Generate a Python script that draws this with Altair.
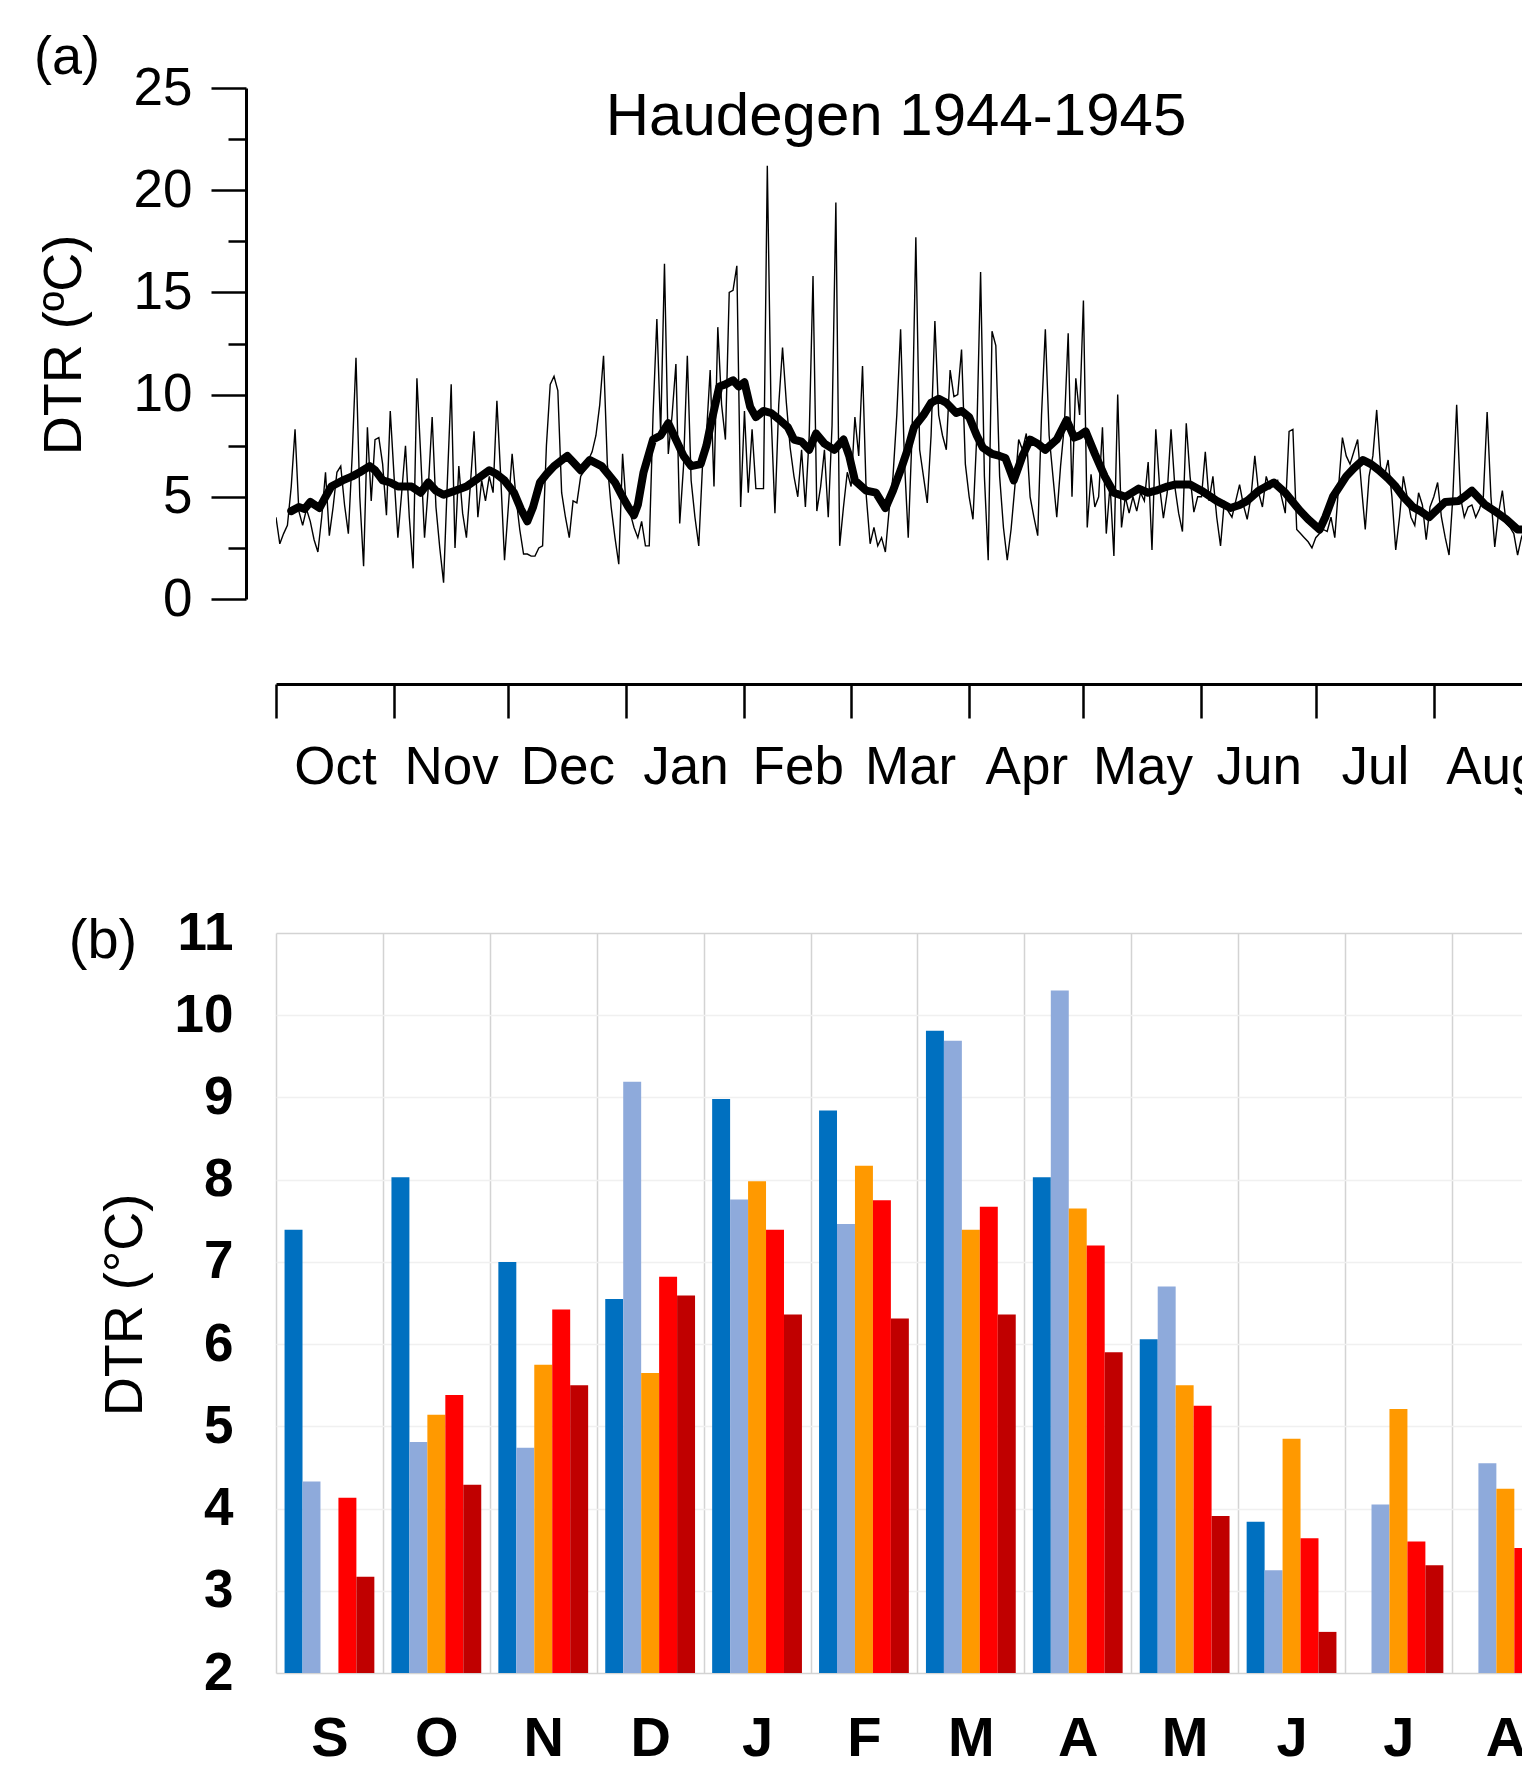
import altair as alt
import pandas as pd

FONT = "Liberation Sans"

# ---------------- (a) daily DTR, Haudegen 1944-1945 ----------------
series_start = "1944-10-01"
dtr_daily = [
    4.0, 2.7, 3.2, 3.6, 5.5, 8.3, 4.3, 3.6, 4.4, 3.8,
    2.9, 2.3, 4.0, 6.2, 3.1, 4.5, 6.2, 6.5, 4.6, 3.2,
    7.0, 11.8, 5.0, 1.6, 8.4, 4.8, 7.8, 7.9, 6.6, 4.1,
    9.2, 6.0, 3.0, 5.2, 7.5, 4.0, 1.5, 10.8, 7.0, 3.0,
    5.5, 8.9, 4.5, 2.5, 0.8, 5.8, 10.5, 2.5, 6.5, 4.2,
    3.0, 5.5, 8.2, 4.0, 5.8, 4.8, 6.0, 5.2, 9.7, 6.0,
    1.9, 4.5, 7.1, 5.0, 3.4, 2.2, 2.2, 2.1, 2.1, 2.5,
    2.6, 7.5, 10.5, 10.9, 10.2, 5.2, 4.0, 3.0, 4.8, 4.7,
    6.0, 6.3, 6.8, 7.2, 8.0, 9.5, 11.9, 6.6, 4.5, 3.0,
    1.7, 7.1, 4.4, 4.2, 3.5, 3.0, 3.8, 2.6, 2.6, 9.0,
    13.7, 8.1, 16.4, 7.1, 9.0, 11.5, 3.7, 6.5, 11.9, 5.8,
    4.0, 2.6, 6.6, 8.0, 11.2, 5.5, 13.3, 9.5, 7.8, 15.0,
    15.1, 16.3, 4.5, 9.2, 5.2, 8.3, 5.4, 5.4, 5.4, 21.2,
    9.0, 4.2, 9.5, 12.3, 9.6, 7.4, 6.0, 5.0, 7.3, 4.5,
    8.0, 15.8, 4.3, 5.5, 7.3, 4.0, 8.5, 19.4, 2.6, 4.5,
    6.2, 5.5, 8.9, 7.0, 11.4, 5.0, 2.7, 3.5, 2.6, 3.0,
    2.3, 4.4, 6.0, 9.0, 13.2, 6.8, 3.0, 8.0, 17.7, 7.3,
    6.0, 4.7, 8.0, 13.6, 9.0, 8.0, 7.3, 11.2, 9.9, 10.0,
    12.2, 6.6, 5.0, 3.9, 8.0, 16.0, 6.0, 1.9, 13.1, 12.4,
    6.0, 3.5, 1.9, 3.4, 5.5, 7.8, 7.3, 8.1, 5.0, 4.0,
    3.1, 9.0, 13.2, 8.0, 6.0, 4.0, 6.5, 8.5, 13.0, 5.0,
    10.8, 9.0, 14.6, 3.5, 6.1, 4.5, 5.0, 8.4, 3.2, 5.6,
    2.1, 10.0, 3.5, 5.0, 4.2, 5.0, 4.3, 5.2, 4.8, 6.7,
    2.4, 8.3, 5.5, 3.95, 5.2, 8.3, 5.5, 4.2, 3.3, 8.6,
    6.0, 4.25, 5.0, 5.0, 7.2, 4.8, 6.0, 4.0, 2.6, 4.8,
    4.3, 4.0, 4.8, 5.6, 4.6, 3.9, 5.0, 7.0, 5.2, 4.5,
    6.0, 5.4, 5.6, 5.8, 5.0, 4.2, 8.2, 8.3, 3.4, 3.2,
    3.0, 2.8, 2.5, 3.0, 3.2, 3.4, 3.3, 4.0, 3.0, 5.5,
    7.9, 7.0, 6.6, 7.2, 7.8, 5.5, 3.4, 6.0, 7.0, 9.25,
    6.5, 6.0, 6.8, 5.0, 2.4, 4.0, 6.0, 5.0, 4.0, 3.6,
    5.2, 4.6, 2.9, 4.5, 5.0, 5.7, 4.0, 3.0, 2.15, 5.0,
    9.5, 5.0, 4.0, 4.5, 4.6, 4.0, 4.4, 5.0, 9.15, 5.0,
    2.55, 4.2, 5.3, 3.7, 3.5, 3.2, 2.15, 3.0, 3.5, 4.5,
    5.8,
]

# running mean (thick curve), read at irregular days after 1 Oct 1944
smooth_day = [
    4, 6, 7.5, 9, 11.4, 13, 14.5, 17.5, 20, 22, 24.6, 26, 28, 30, 32, 35.6, 38, 40, 42, 44,
    47, 50, 53, 56, 58, 60, 62.5, 64.3, 66, 67.5, 69.3, 71, 73, 76.5, 78, 80, 82.4, 85.5, 89, 91,
    92.5, 94, 95, 96.5, 99, 101, 103, 105.5, 107, 109, 111.5, 113, 114, 116.4, 118, 120, 121.5, 123, 124.5, 126,
    128, 130, 132, 134.4, 136, 138, 140, 141.8, 144, 146.6, 149, 150.5, 152, 155, 157.5, 160, 162, 164, 166, 167.5,
    170, 172, 174, 176, 178.6, 180, 182, 184, 185.6, 188, 190, 191.5, 193.7, 196, 198, 200, 202, 205, 207.6, 209.6,
    211, 212.6, 215, 217.6, 220, 223, 226.5, 229, 231, 234, 236, 240, 243, 247, 250.6, 253, 255, 258, 260, 262,
    265, 268.7, 271, 274, 275.5, 277.5, 281, 283, 285.4, 287.5, 289.6, 292, 294, 296, 298.5, 300.5, 302.8, 305, 307, 310.5,
    312, 314, 315.5, 317.5, 320, 323, 326, 330,
]
smooth_val = [
    4.3, 4.5, 4.4, 4.75, 4.45, 5.0, 5.5, 5.8, 6.0, 6.2, 6.5, 6.3, 5.8, 5.7, 5.5, 5.5, 5.2, 5.7, 5.3, 5.1,
    5.3, 5.5, 5.9, 6.3, 6.1, 5.8, 5.2, 4.4, 3.8, 4.5, 5.7, 6.1, 6.5, 7.0, 6.7, 6.3, 6.8, 6.5, 5.7, 5.0,
    4.5, 4.1, 4.6, 6.2, 7.8, 8.0, 8.6, 7.6, 7.0, 6.5, 6.6, 7.5, 8.4, 10.4, 10.5, 10.7, 10.4, 10.6, 9.4, 8.9,
    9.2, 9.1, 8.8, 8.4, 7.8, 7.7, 7.3, 8.1, 7.6, 7.3, 7.8, 7.0, 5.8, 5.3, 5.2, 4.45, 5.3, 6.3, 7.4, 8.4,
    9.0, 9.6, 9.8, 9.6, 9.1, 9.2, 8.9, 8.0, 7.4, 7.1, 7.0, 6.9, 5.8, 7.0, 7.8, 7.6, 7.3, 7.8, 8.75, 7.9,
    8.0, 8.2, 7.1, 6.0, 5.2, 5.0, 5.4, 5.2, 5.3, 5.5, 5.6, 5.6, 5.3, 4.8, 4.45, 4.6, 4.8, 5.3, 5.5, 5.7,
    5.2, 4.35, 3.9, 3.4, 4.0, 5.0, 6.0, 6.4, 6.8, 6.6, 6.3, 5.9, 5.5, 5.0, 4.5, 4.3, 4.0, 4.4, 4.75, 4.8,
    5.0, 5.3, 5.0, 4.6, 4.3, 3.9, 3.4, 3.4,
]

month_starts = [(1944, 10, 1), (1944, 11, 1), (1944, 12, 1), (1945, 1, 1), (1945, 2, 1), (1945, 3, 1),
                (1945, 4, 1), (1945, 5, 1), (1945, 6, 1), (1945, 7, 1), (1945, 8, 1)]
month_mids = [(1944, 10, 16, 12), (1944, 11, 16, 0), (1944, 12, 16, 12), (1945, 1, 16, 12), (1945, 2, 15, 0),
              (1945, 3, 16, 12), (1945, 4, 16, 0), (1945, 5, 16, 12), (1945, 6, 16, 0), (1945, 7, 16, 12),
              (1945, 8, 16, 12)]
x_domain_a = [(1944, 10, 1, 0), (1945, 8, 24, 10)]
y_major_a = [0, 5, 10, 15, 20, 25]
y_minor_a = [2.5, 7.5, 12.5, 17.5, 22.5]

TITLE_A = "Haudegen 1944-1945"
LABEL_A = "(a)"
YTITLE_A = "DTR (ºC)"

# ---------------- (b) monthly mean DTR, five series ----------------
months_b = ["S", "O", "N", "D", "J", "F", "M", "A", "M", "J", "J", "A"]
series_b = ["Series 1", "Series 2", "Series 3", "Series 4", "Series 5"]
colors_b = ["#0070C0", "#8EAADB", "#FF9900", "#FF0000", "#C00000"]
dtr_s1 = [7.39, 8.03, 7.00, 6.55, 8.98, 8.84, 9.81, 8.03, 6.06, 3.84, None, None]
dtr_s2 = [4.33, 4.81, 4.74, 9.19, 7.76, 7.46, 9.69, 10.30, 6.70, 3.25, 4.05, 4.55]
dtr_s3 = [None, 5.14, 5.75, 5.65, 7.98, 8.17, 7.39, 7.65, 5.50, 4.85, 5.21, 4.24]
dtr_s4 = [4.13, 5.38, 6.42, 6.82, 7.39, 7.75, 7.67, 7.20, 5.25, 3.64, 3.60, 3.52]
dtr_s5 = [3.17, 4.29, 5.50, 6.59, 6.36, 6.31, 6.36, 5.90, 3.91, 2.50, 3.31, None]
y_ticks_b = [2, 3, 4, 5, 6, 7, 8, 9, 10, 11]

LABEL_B = "(b)"
YTITLE_B = "DTR (°C)"


def dt(t):
    y, m, d = t[0], t[1], t[2]
    h = t[3] if len(t) > 3 else 0
    return alt.DateTime(year=y, month=m, date=d, hours=h)


start = pd.Timestamp(series_start)
daily = pd.DataFrame({"date": pd.date_range(start, periods=len(dtr_daily), freq="D"), "dtr": dtr_daily})
smooth = pd.DataFrame({"date": [start + pd.Timedelta(days=d) for d in smooth_day], "dtr": smooth_val})

W = 1247
H_A = 511
H_B = 740

x_scale_a = alt.Scale(domain=[dt(t) for t in x_domain_a], nice=False)
y_scale_a = alt.Scale(domain=[0, 25], nice=False, zero=False)

thin = alt.Chart(daily).mark_line(color="black", strokeWidth=1.4, clip=True).encode(
    x=alt.X("date:T", scale=x_scale_a,
            axis=alt.Axis(values=[dt(t) for t in month_starts], labels=False, ticks=True, tickSize=34,
                          tickWidth=2.5, tickColor="black", domain=True, domainWidth=3, domainColor="black",
                          grid=False, offset=85, orient="bottom", title=None)),
    y=alt.Y("dtr:Q", scale=y_scale_a,
            axis=alt.Axis(values=y_major_a, tickSize=35, tickWidth=2.5, tickColor="black", domain=True,
                          domainWidth=3, domainColor="black", grid=False, offset=30, orient="left",
                          labelFontSize=53, labelFont=FONT, labelColor="black", labelPadding=19, title=None)),
)

thick = alt.Chart(smooth).mark_line(color="black", strokeWidth=8, clip=True, strokeJoin="round",
                                    strokeCap="round").encode(
    x=alt.X("date:T", scale=x_scale_a,
            axis=alt.Axis(values=[dt(t) for t in month_mids], labelExpr="timeFormat(datum.value, '%b')",
                          ticks=False, tickSize=0, domain=False, grid=False, offset=85, orient="bottom",
                          labelPadding=57, labelFontSize=53, labelFont=FONT, labelColor="black",
                          labelFlush=False, labelOverlap=False, title=None)),
    y=alt.Y("dtr:Q", scale=y_scale_a,
            axis=alt.Axis(values=y_minor_a, tickSize=18, tickWidth=2.5, tickColor="black", labels=False,
                          domain=False, grid=False, offset=30, orient="left", title=None)),
)


def label(text, x, y, size, angle=0, weight="normal", baseline="middle"):
    kw = dict(font=FONT, fontSize=size, align="center", baseline=baseline, color="black", fontWeight=weight)
    if angle:
        kw["angle"] = angle
    return alt.Chart(pd.DataFrame({"t": [text]})).mark_text(**kw).encode(
        text="t:N", x=alt.value(x), y=alt.value(y))


panel_a = alt.layer(
    thin, thick,
    label(TITLE_A, 620, 47, 60, baseline="alphabetic"),
    label(LABEL_A, -209, -30, 54),
    label(YTITLE_A, -211, 257, 54, angle=270),
).resolve_axis(x="independent", y="independent").properties(width=W, height=H_A)

# ---- panel b
rows = []
for s, vals in enumerate([dtr_s1, dtr_s2, dtr_s3, dtr_s4, dtr_s5]):
    for m, v in enumerate(vals):
        if v is not None:
            rows.append({"m": m, "s": s, "series": series_b[s], "month": months_b[m], "dtr": v})
bars_df = pd.DataFrame(rows)

letters_expr = "[" + ",".join(f"'{l}'" for l in months_b) + "][datum.value]"
x_dom_end = W / 106.9

bars = alt.Chart(bars_df).transform_calculate(
    x0="datum.m + 0.08 + 0.168 * datum.s",
    x1="datum.m + 0.08 + 0.168 * (datum.s + 1)",
).mark_bar(clip=True).encode(
    x=alt.X("x0:Q", scale=alt.Scale(domain=[0, x_dom_end], nice=False, zero=False),
            axis=alt.Axis(values=list(range(len(months_b))), grid=True, gridColor="#d3d3d3", gridWidth=1.5,
                          ticks=False, tickSize=0, domain=False, labelExpr=letters_expr,
                          labelOffset=53.45, labelPadding=38, labelFontSize=56, labelFontWeight="bold",
                          labelFont=FONT, labelColor="black", labelFlush=False, labelOverlap=False,
                          title=None)),
    x2="x1:Q",
    y=alt.Y("dtr:Q", scale=alt.Scale(domain=[2, 11], nice=False, zero=False),
            axis=alt.Axis(values=y_ticks_b, grid=True,
                          gridColor={"condition": {"test": "datum.value === 11 || datum.value === 2",
                                                   "value": "#d3d3d3"}, "value": "#f0f0f0"},
                          gridWidth=1.5, ticks=False, domain=False, labelFontSize=53,
                          labelFontWeight="bold", labelFont=FONT, labelColor="black", labelPadding=43,
                          title=None)),
    y2=alt.datum(2),
    color=alt.Color("series:N", scale=alt.Scale(domain=series_b, range=colors_b), legend=None),
)

panel_b = alt.layer(
    bars,
    label(LABEL_B, -173, 8, 56),
    label(YTITLE_B, -150, 372, 54, angle=270),
).properties(width=W, height=H_B)

chart = alt.vconcat(panel_a, panel_b, spacing=334, bounds="flush").properties(
    padding={"left": 26, "top": 23, "right": -18, "bottom": -6},
    background="white",
).configure(font=FONT).configure_view(stroke=None)

chart.save("out.html", embed_options={"renderer": "svg", "actions": False})
